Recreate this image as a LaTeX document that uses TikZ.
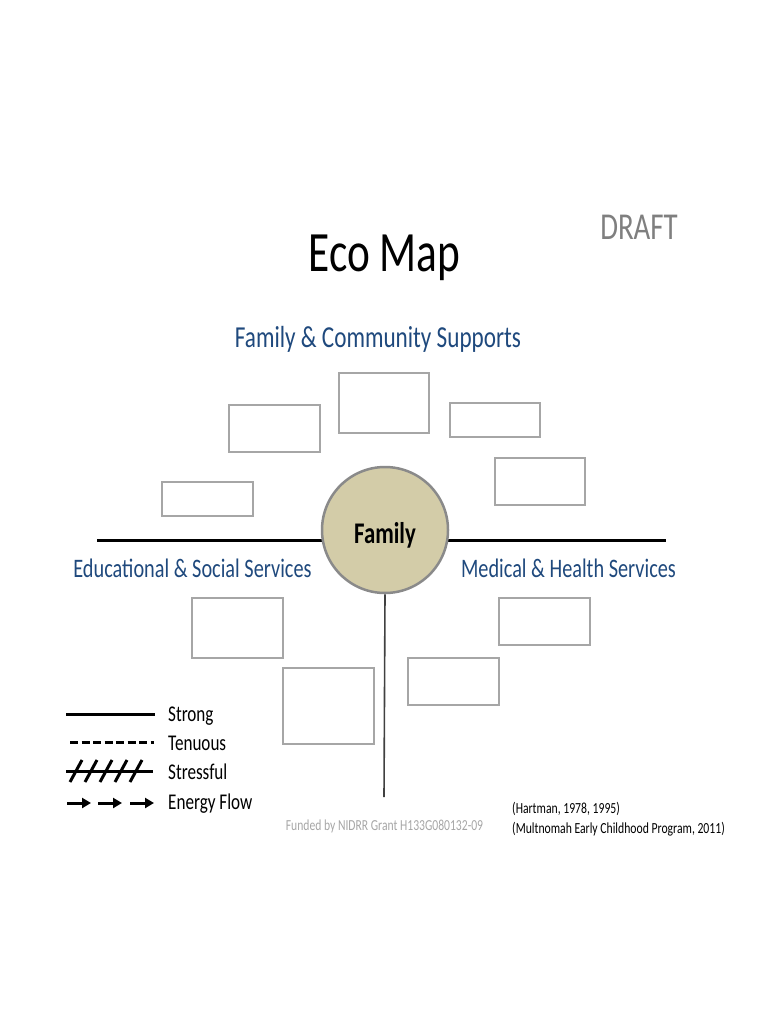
\documentclass[tikz,border=0pt]{standalone}
\usepackage{fontspec}
\setmainfont[FakeStretch=0.76]{Carlito}
\usetikzlibrary{arrows.meta}
\definecolor{secblue}{HTML}{1F497D}
\definecolor{draftgray}{HTML}{7F7F7F}
\definecolor{fundgray}{HTML}{A6A6A6}
\definecolor{boxgray}{HTML}{A6A6A6}
\definecolor{famfill}{HTML}{D3CCA8}
\definecolor{famborder}{HTML}{8A8A8A}
\definecolor{vline}{HTML}{404040}
\tikzset{
  box/.style={draw=boxgray, line width=1.4pt, fill=white, inner sep=0pt},
  txt/.style={inner sep=0pt},
  sectxt/.style={txt, anchor=base, text=secblue, font=\fontsize{26.7}{30}\selectfont},
  legtxt/.style={txt, anchor=base west, font=\fontsize{22.5}{26}\selectfont},
  reftxt/.style={txt, anchor=base west, font=\fontsize{15.4}{18}\selectfont},
  legline/.style={line width=3pt},
}
\begin{document}
\begin{tikzpicture}[x=1pt,y=-1pt]
\useasboundingbox (0,0) rectangle (768,1024);
% title
\node[txt, anchor=base, font=\fontsize{57}{62}\selectfont] (title) at (384.5,271) {Eco Map};
\node[txt, anchor=base, text=draftgray, font=\fontsize{38}{42}\selectfont] (draft) at (639,240) {DRAFT};
\node[txt, anchor=base, text=secblue, font=\fontsize{30.5}{34}\selectfont] (famcom) at (378,347) {Family \& Community Supports};
% axis lines
\coordinate (hl) at (97,540);
\coordinate (hr) at (666,540);
\draw[line width=3pt] (hl) -- (hr);
\node[circle, draw=famborder, line width=2.5pt, fill=famfill, minimum size=126pt, inner sep=0pt] (fam) at (385,530) {};
\node[txt, anchor=base, font=\bfseries\fontsize{30}{34}\selectfont] (famtxt) at (385,543) {Family};
\coordinate (vb) at (384,797);
\draw[line width=1.6pt, draw=vline] (fam.south) -- (vb);
% section labels
\node[sectxt] (edu) at (192.5,577) {Educational \& Social Services};
\node[sectxt] (med) at (568.5,577) {Medical \& Health Services};
% boxes
\node[box, minimum width=90pt, minimum height=60pt] (b1) at (384,403) {};
\node[box, minimum width=91pt, minimum height=47pt] (b2) at (274.5,428.5) {};
\node[box, minimum width=90pt, minimum height=34pt] (b3) at (495,420) {};
\node[box, minimum width=90pt, minimum height=47pt] (b4) at (540,481.5) {};
\node[box, minimum width=91pt, minimum height=34pt] (b5) at (207.5,499) {};
\node[box, minimum width=91pt, minimum height=60pt] (b6) at (237.5,628) {};
\node[box, minimum width=91pt, minimum height=47pt] (b7) at (544.5,621.5) {};
\node[box, minimum width=91pt, minimum height=76pt] (b8) at (328.5,706) {};
\node[box, minimum width=91pt, minimum height=47pt] (b9) at (453.5,681.5) {};
% legend
\coordinate (s1) at (66,714); \coordinate (s2) at (155,714);
\draw[legline] (s1) -- (s2);
\node[legtxt] (strong) at (168,721) {Strong};
\coordinate (t1) at (70,742); \coordinate (t2) at (154,742);
\draw[legline, dash pattern=on 8pt off 3.5pt] (t1) -- (t2);
\node[legtxt] (tenuous) at (168,750) {Tenuous};
\coordinate (r1) at (66,771); \coordinate (r2) at (153,771);
\draw[legline] (r1) -- (r2);
\foreach \xx in {70,85,100,115,130} {
  \draw[legline] (\xx,782) -- ({\xx+12},760);
}
\node[legtxt] (stressful) at (168,779) {Stressful};
\foreach \xa/\xb in {67/91,98/122,130/154} {
  \draw[legline, -{Triangle[length=9pt,width=10pt]}] (\xa,803) -- (\xb,803);
}
\node[legtxt] (energy) at (168,809) {Energy Flow};
% footer
\node[txt, anchor=base, text=fundgray, font=\fontsize{15.3}{18}\selectfont] (fund) at (384.5,830) {Funded by NIDRR Grant H133G080132-09};
\node[reftxt] (ref1) at (512,813) {(Hartman, 1978, 1995)};
\node[reftxt] (ref2) at (512,833) {(Multnomah Early Childhood Program, 2011)};
\end{tikzpicture}
\end{document}
